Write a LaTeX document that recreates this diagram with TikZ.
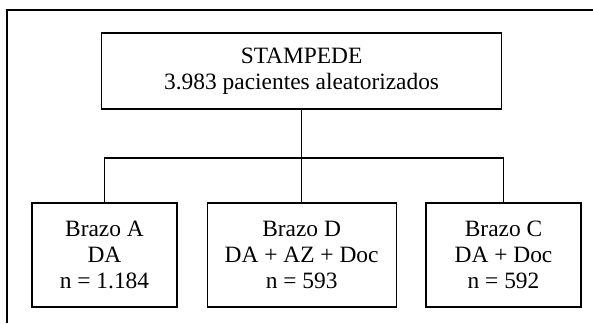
\documentclass[tikz,border=0pt]{standalone}
\usepackage{fontspec}
\setmainfont{Liberation Serif}
\usepackage{tikz}

\begin{document}
\begin{tikzpicture}[line width=0.6pt,
    caja/.style={draw, align=center, inner sep=0pt,
      font=\fontsize{11.7}{13}\selectfont}]
      \useasboundingbox (0, 0) rectangle (10.42, 5.676);
      \draw (10.42, 5.50) -- (0.123, 5.50) -- (0.123, 0);
      \node (ensayo) at (5.30, 4.428) [caja, minimum width=7.03cm, minimum height=1.336cm]
        {STAMPEDE\\3.983 pacientes aleatorizados};
      \node (brazoA) at (1.836, 1.195) [caja, minimum width=2.548cm, minimum height=1.828cm]
        {Brazo A\\DA\\n = 1.184};
      \node (brazoD) at (5.30, 1.195) [caja, minimum width=3.321cm, minimum height=1.828cm]
        {Brazo D\\DA + AZ + Doc\\n = 593};
      \node (brazoC) at (8.848, 1.195) [caja, minimum width=2.724cm, minimum height=1.828cm]
        {Brazo C\\DA + Doc\\n = 592};
      \coordinate (rama) at (5.30, 2.90);
      \draw (ensayo) -- (brazoD);
      \draw (brazoA) |- (rama) -| (brazoC);
\end{tikzpicture}
\end{document}
